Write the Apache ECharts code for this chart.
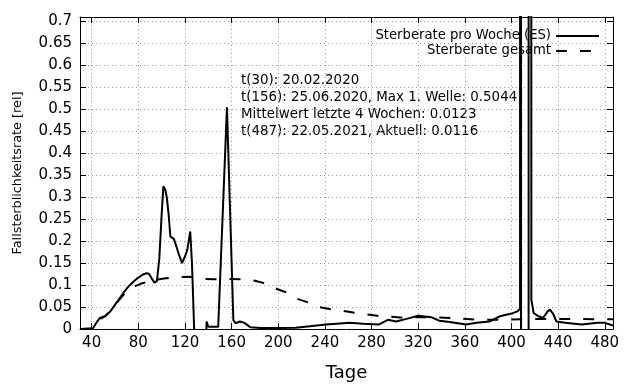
<!DOCTYPE html>
<html>
<head>
<meta charset="utf-8">
<script src="https://cdn.jsdelivr.net/npm/echarts@6/dist/echarts.min.js"></script>
<style>
    html, body { margin: 0; padding: 0; background: #fff; }
    #rateChart { width: 640px; height: 384px; }
</style>
</head>
<body>
<div id="rateChart"></div>
<script>
// Achsen-Ticks
const xTicks = [40, 80, 120, 160, 200, 240, 280, 320, 360, 400, 440, 480];
const yTicks = [0, 0.05, 0.1, 0.15, 0.2, 0.25, 0.3, 0.35, 0.4, 0.45, 0.5, 0.55, 0.6, 0.65, 0.7];

// Sterberate pro Woche (ES) - Tag / Wert
const weekDays = [31, 41, 45, 47, 49, 52, 56, 60, 64, 68, 72, 76, 80, 84, 87, 89, 91, 94, 96, 98, 100,
    101.5, 103, 104.5, 106, 107.5, 109, 110.5, 113, 115, 117.5, 120, 122, 124.5, 126, 128.5,
    138, 138.5, 140, 148.5, 150, 156, 161.5, 163.5, 167, 171, 176, 185, 200, 215, 227, 241, 250,
    261, 273, 286, 294, 301, 310, 320, 331, 338, 347, 361, 370, 381, 390, 401, 405, 407.3,
    408, 408.3, 414.5, 414.8, 415.1, 417, 419, 423, 427, 431, 433, 436, 438.5, 446, 460, 474, 480, 487];
const weekRate = [0, 0.001, 0.018, 0.025, 0.027, 0.03, 0.04, 0.055, 0.07, 0.085, 0.098, 0.108, 0.117, 0.124, 0.127, 0.126, 0.117, 0.105, 0.11, 0.16, 0.26,
    0.325, 0.318, 0.298, 0.26, 0.21, 0.212, 0.205, 0.185, 0.168, 0.15, 0.165, 0.18, 0.222, 0.15, -0.05,
    -0.05, 0.017, 0.005, 0.005, 0.002, 0.5044, 0.02, 0.013, 0.017, 0.014, 0.004, 0.002, 0.002, 0.003, 0.006, 0.01, 0.012,
    0.014, 0.012, 0.01, 0.021, 0.017, 0.023, 0.03, 0.027, 0.019, 0.016, 0.01, 0.014, 0.017, 0.029, 0.036, 0.04, 0.046,
    30, -30, -30, 30, 30, 0.067, 0.036, 0.029, 0.025, 0.04, 0.044, 0.033, 0.017, 0.014, 0.01, 0.014, 0.014, 0.008];

// Sterberate gesamt - Tag / Wert
const totalDays = [31, 41, 47, 52, 60, 68, 75, 83, 95, 102, 115, 124, 135, 145, 160, 170, 180, 187, 199, 207,
    217, 226, 237, 247, 259, 268, 285, 305, 330, 350, 372, 395, 417, 440, 487];
const totalRate = [0, 0.001, 0.022, 0.03, 0.055, 0.08, 0.095, 0.104, 0.112, 0.115, 0.118, 0.119, 0.114, 0.113, 0.114, 0.113, 0.11, 0.105, 0.091, 0.083,
    0.068, 0.06, 0.049, 0.044, 0.04, 0.036, 0.03, 0.026, 0.027, 0.025, 0.021, 0.021, 0.023, 0.023, 0.022];

const infoLines = [
    't(30): 20.02.2020',
    't(156): 25.06.2020, Max 1. Welle: 0.5044',
    'Mittelwert letzte 4 Wochen: 0.0123',
    't(487): 22.05.2021, Aktuell: 0.0116'
];

document.addEventListener('DOMContentLoaded', function() {
    initRateChart();
});

function initRateChart() {
    const el = document.getElementById('rateChart');
    echarts.dispose(el);
    const chart = echarts.init(el);

    const font = 'DejaVu Sans';
    const gridLine = { show: true, lineStyle: { color: '#9a9a9a', type: [1, 3], width: 1 } };
    const border = { show: true, onZero: false, lineStyle: { color: '#000', width: 1 } };

    const weekData = weekDays.map((d, i) => [d, weekRate[i]]);
    const totalData = totalDays.map((d, i) => [d, totalRate[i]]);

    const option = {
        animation: false,
        backgroundColor: '#fff',
        textStyle: { fontFamily: font },
        grid: { left: 80, right: 27, top: 17, bottom: 55, outerBoundsMode: 'none' },
        legend: {
            orient: 'vertical',
            right: 35,
            top: 24,
            align: 'right',
            itemWidth: 43,
            itemHeight: 10,
            itemGap: 1,
            itemStyle: { opacity: 0 },
            textStyle: { fontFamily: font, fontSize: 13.2, color: '#000', lineHeight: 14 },
            data: ['Sterberate pro Woche (ES)', 'Sterberate gesamt']
        },
        graphic: [{
            type: 'text',
            left: 241,
            top: 72,
            style: {
                text: infoLines.join('\n'),
                fontFamily: font,
                fontSize: 13.4,
                lineHeight: 17,
                fill: '#000'
            }
        }],
        xAxis: [{
            type: 'value',
            min: 30,
            max: 487,
            name: 'Tage',
            nameLocation: 'middle',
            nameGap: 35,
            nameTextStyle: { fontFamily: font, fontSize: 18, color: '#000' },
            axisLine: border,
            axisTick: { show: true, inside: true, length: 6, customValues: xTicks, lineStyle: { color: '#000' } },
            axisLabel: { customValues: xTicks, fontFamily: font, fontSize: 15, color: '#000', margin: 7 },
            splitLine: gridLine
        }, {
            type: 'value',
            position: 'top',
            min: 30,
            max: 487,
            axisLine: border,
            axisTick: { show: true, inside: true, length: 6, customValues: xTicks, lineStyle: { color: '#000' } },
            axisLabel: { show: false },
            splitLine: { show: false }
        }],
        yAxis: [{
            type: 'value',
            min: 0,
            max: 0.71,
            name: 'Fallsterblichkeitsrate [rel]',
            nameLocation: 'middle',
            nameGap: 56,
            nameTextStyle: { fontFamily: font, fontSize: 12.8, color: '#000' },
            axisLine: border,
            axisTick: { show: true, inside: true, length: 6, customValues: yTicks, lineStyle: { color: '#000' } },
            axisLabel: { customValues: yTicks, fontFamily: font, fontSize: 15, color: '#000', margin: 8 },
            splitLine: gridLine
        }, {
            type: 'value',
            position: 'right',
            min: 0,
            max: 0.71,
            axisLine: border,
            axisTick: { show: true, inside: true, length: 6, customValues: yTicks, lineStyle: { color: '#000' } },
            axisLabel: { show: false },
            splitLine: { show: false }
        }],
        series: [
            {
                name: 'Sterberate pro Woche (ES)',
                type: 'line',
                data: weekData,
                symbol: 'none',
                clip: true,
                lineStyle: { color: '#000', width: 2 },
                itemStyle: { color: '#000' }
            },
            {
                name: 'Sterberate gesamt',
                type: 'line',
                data: totalData,
                symbol: 'none',
                clip: true,
                lineStyle: { color: '#000', width: 2, type: [11, 13] },
                itemStyle: { color: '#000' }
            }
        ]
    };

    chart.setOption(option);

    window.addEventListener('resize', function() {
        chart.resize();
    });
}
</script>
</body>
</html>
